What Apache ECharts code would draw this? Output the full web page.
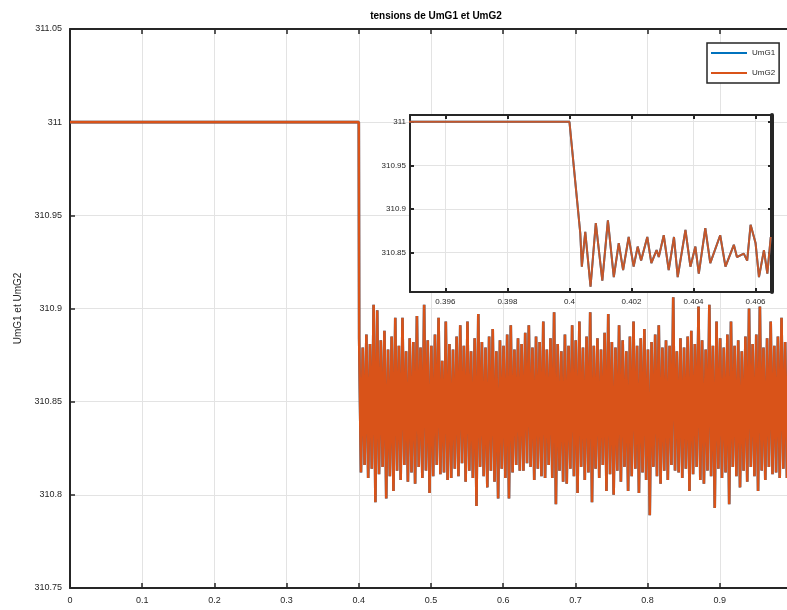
<!DOCTYPE html>
<html>
<head>
<meta charset="utf-8">
<script src="https://cdn.jsdelivr.net/npm/echarts@6/dist/echarts.min.js"></script>
<style>html,body{margin:0;padding:0;background:#fff}#c{width:787px;height:610px}</style>
</head>
<body>
<div id="c"></div>
<script>
// ---- data ----
const seriesNames = ['UmG1', 'UmG2'];
const xTickLabels = ['0', '0.1', '0.2', '0.3', '0.4', '0.5', '0.6', '0.7', '0.8', '0.9', '1'];
const yTickLabels = ['310.75', '310.8', '310.85', '310.9', '310.95', '311', '311.05'];
const insetXTicks = [0.396, 0.398, 0.4, 0.402, 0.404, 0.406];
const insetYTicks = [310.85, 310.9, 310.95, 311];

// constant part before the disturbance
const flatTime = [0, 0.4];
const flatValue = [311, 311];

// noisy part after t = 0.4 : sample times start and step (s)
const bandStart = 0.4005;
const bandStep = 0.005;
// upper excursions of the noise (one per sample pair)
const bandHigh = [
310.884,310.879,310.886,310.881,310.902,310.899,310.883,310.888,310.878,310.885,
310.895,310.880,310.895,310.877,310.884,310.882,310.896,310.879,310.902,310.883,
310.880,310.886,310.895,310.872,310.893,310.881,310.878,310.885,310.891,310.880,
310.893,310.877,310.884,310.897,310.882,310.879,310.885,310.889,310.877,310.883,
310.880,310.886,310.891,310.878,310.884,310.881,310.887,310.891,310.879,310.885,
310.882,310.893,310.878,310.884,310.898,310.881,310.877,310.886,310.880,310.891,
310.883,310.893,310.879,310.885,310.898,310.880,310.884,310.878,310.887,310.897,
310.882,310.879,310.891,310.883,310.877,310.885,310.893,310.880,310.884,310.889,
310.878,310.882,310.886,310.891,310.879,310.883,310.880,310.906,310.877,310.884,
310.879,310.885,310.888,310.881,310.901,310.883,310.878,310.902,310.880,310.893,
310.884,310.879,310.886,310.893,310.880,310.883,310.877,310.885,310.900,310.881,
310.886,310.901,310.879,310.884,310.893,310.880,310.885,310.895,310.882,310.887
];
// lower excursions of the noise
const bandLow = [
310.812,310.816,310.809,310.814,310.796,310.811,310.815,310.798,310.810,310.802,
310.813,310.808,310.816,310.807,310.812,310.806,310.815,310.809,310.813,310.801,
310.810,310.816,310.811,310.812,310.808,310.809,310.814,310.810,310.817,310.807,
310.813,310.809,310.794,310.815,310.810,310.804,310.813,310.807,310.798,310.814,
310.809,310.798,310.812,310.816,310.813,310.813,310.817,310.815,310.808,310.814,
310.810,310.809,310.816,310.809,310.795,310.813,310.807,310.806,310.814,310.810,
310.801,310.815,310.808,310.812,310.796,310.814,310.809,310.816,310.802,310.811,
310.800,310.813,310.807,310.815,310.802,310.810,310.814,310.801,310.812,310.808,
310.789,310.815,310.810,310.806,310.813,310.808,310.816,310.813,310.812,310.809,
310.814,310.802,310.811,310.815,310.808,310.806,310.813,310.810,310.793,310.814,
310.809,310.812,310.795,310.815,310.810,310.804,310.813,310.807,310.815,310.810,
310.802,310.813,310.808,310.815,310.811,310.812,310.809,310.814,310.809,310.812
];

// zoomed inset around t = 0.4
const insetTime = [0.3948,0.4000,0.40035,0.40040,0.40051,0.40068,0.40085,0.40106,0.40124,0.40143,
0.40159,0.40173,0.40191,0.40207,0.40220,0.40231,0.40251,0.40264,0.40281,0.40288,
0.40304,0.40320,0.40337,0.40349,0.40374,0.40390,0.40406,0.40417,0.40438,0.40454,
0.40486,0.40503,0.40530,0.40540,0.40562,0.40573,0.40584,0.40600,0.40611,0.40627,
0.40638,0.40649];
const insetValue = [311,311,310.872,310.834,310.874,310.811,310.884,310.818,310.887,310.822,
310.861,310.830,310.868,310.834,310.857,310.841,310.868,310.838,310.853,310.845,
310.870,310.830,310.868,310.822,310.876,310.834,310.857,310.826,310.878,310.838,
310.870,310.834,310.859,310.845,310.849,310.841,310.882,310.861,310.822,310.853,
310.826,310.868];

// ---- build series data ----
const mainData = [];
for (let i = 0; i < flatTime.length; i++) mainData.push([flatTime[i], flatValue[i]]);
for (let k = 0; k < bandHigh.length; k++) {
  const t = bandStart + k * bandStep;
  mainData.push([t, bandHigh[k]]);
  mainData.push([t + bandStep / 2, bandLow[k]]);
}
const insetData = insetTime.map((t, i) => [t, insetValue[i]]);

const blue = '#0072BD', orange = '#D95319', ink = '#262626';
const font = 'Liberation Sans, Arial, sans-serif';

const chart = echarts.init(document.getElementById('c'), null, {renderer: 'canvas'});
const axisLineStyle = {color: ink, width: 2};
const tickStyle = {color: ink, width: 1.5};
const gridLine = {show: true, lineStyle: {color: '#e3e3e3', width: 1}};

chart.setOption({
  animation: false,
  backgroundColor: '#fff',
  title: {
    text: 'tensions de UmG1 et UmG2', left: 431, top: 6, textAlign: 'center',
    textStyle: {fontSize: 10, fontWeight: 'bold', color: '#000', fontFamily: font}
  },
  legend: {
    data: seriesNames, orient: 'vertical', left: 707, top: 43,
    icon: 'rect', itemWidth: 36, itemHeight: 2, itemGap: 12,
    padding: [6, 4, 6, 4], borderColor: ink, borderWidth: 1.5, backgroundColor: '#fff',
    textStyle: {fontSize: 8, color: ink, fontFamily: font}, z: 20
  },
  grid: [
    {left: 70, top: 29, width: 722, height: 559, outerBoundsMode: 'none', containLabel: false},
    {left: 410, top: 115, width: 362, height: 177, outerBoundsMode: 'none', containLabel: false,
      show: true, backgroundColor: '#fff', borderWidth: 0, z: 5}
  ],
  xAxis: [
    {type: 'value', gridIndex: 0, min: 0, max: 1, interval: 0.1,
      axisLine: {lineStyle: axisLineStyle}, axisTick: {inside: true, length: 5, lineStyle: tickStyle},
      splitLine: gridLine,
      axisLabel: {fontSize: 9, color: ink, margin: 8, fontFamily: font,
        formatter: v => { const i = Math.round(v * 10); return xTickLabels[i] || ''; }}},
    {type: 'value', gridIndex: 0, position: 'top', min: 0, max: 1, interval: 0.1,
      axisLine: {lineStyle: axisLineStyle}, axisTick: {inside: true, length: 5, lineStyle: tickStyle},
      splitLine: {show: false}, axisLabel: {show: false}},
    {type: 'value', gridIndex: 1, min: 0.39486, max: 0.40653, z: 6,
      axisLine: {lineStyle: axisLineStyle},
      axisTick: {inside: true, length: 4, lineStyle: {color: ink, width: 2}, customValues: insetXTicks},
      splitLine: gridLine,
      axisLabel: {fontSize: 8, color: ink, margin: 6, fontFamily: font, customValues: insetXTicks,
        formatter: v => String(+v.toFixed(3))}},
    {type: 'value', gridIndex: 1, position: 'top', min: 0.39486, max: 0.40653, z: 6,
      axisLine: {lineStyle: axisLineStyle},
      axisTick: {inside: true, length: 4, lineStyle: {color: ink, width: 2}, customValues: insetXTicks},
      splitLine: {show: false}, axisLabel: {show: false}}
  ],
  yAxis: [
    {type: 'value', gridIndex: 0, min: 310.75, max: 311.05, interval: 0.05,
      name: 'UmG1 et UmG2', nameLocation: 'middle', nameGap: 47,
      nameTextStyle: {fontSize: 10, color: ink, fontFamily: font},
      axisLine: {lineStyle: axisLineStyle}, axisTick: {inside: true, length: 5, lineStyle: tickStyle},
      splitLine: gridLine,
      axisLabel: {fontSize: 9, color: ink, margin: 8, fontFamily: font,
        formatter: v => { const i = Math.round((v - 310.75) / 0.05); return yTickLabels[i] || ''; }}},
    {type: 'value', gridIndex: 1, min: 310.805, max: 311.0077, z: 6,
      axisLine: {lineStyle: axisLineStyle},
      axisTick: {inside: true, length: 4, lineStyle: {color: ink, width: 2}, customValues: insetYTicks},
      splitLine: gridLine,
      axisLabel: {fontSize: 8, color: ink, margin: 4, fontFamily: font, customValues: insetYTicks,
        formatter: v => String(+v.toFixed(2))}},
    {type: 'value', gridIndex: 1, position: 'right', min: 310.805, max: 311.0077, z: 6,
      axisLine: {lineStyle: {color: ink, width: 4}},
      axisTick: {inside: true, length: 4, lineStyle: {color: ink, width: 2}, customValues: insetYTicks},
      splitLine: {show: false}, axisLabel: {show: false}}
  ],
  series: [
    {name: 'UmG1', type: 'line', xAxisIndex: 0, yAxisIndex: 0, data: mainData, showSymbol: false,
      itemStyle: {color: blue}, lineStyle: {color: blue, width: 2.6}, z: 2},
    {name: 'UmG2', type: 'line', xAxisIndex: 0, yAxisIndex: 0, data: mainData, showSymbol: false,
      itemStyle: {color: orange}, lineStyle: {color: orange, width: 2.6}, z: 3},
    {name: 'UmG1', type: 'line', xAxisIndex: 2, yAxisIndex: 1, data: insetData, showSymbol: false,
      itemStyle: {color: blue}, lineStyle: {color: blue, width: 2}, z: 7},
    {name: 'UmG2', type: 'line', xAxisIndex: 2, yAxisIndex: 1, data: insetData, showSymbol: false,
      itemStyle: {color: orange}, lineStyle: {color: orange, width: 2, opacity: 0.9}, z: 8}
  ]
});
</script>
</body>
</html>
